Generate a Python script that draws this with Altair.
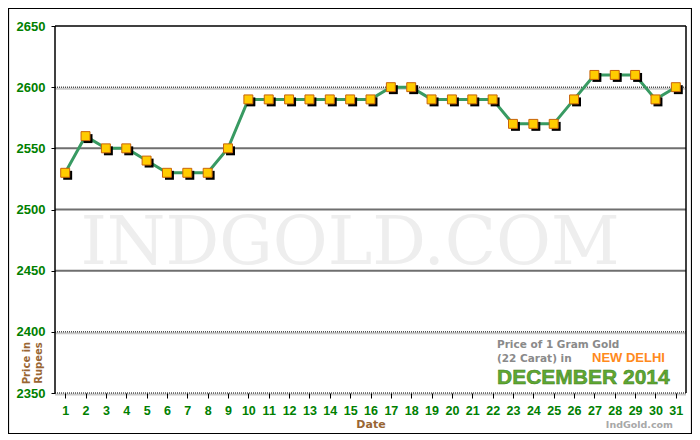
import altair as alt
import pandas as pd

days = list(range(1, 32))
prices = [2530, 2560, 2550, 2550, 2540, 2530, 2530, 2530, 2550, 2590,
          2590, 2590, 2590, 2590, 2590, 2590, 2600, 2600, 2590, 2590,
          2590, 2590, 2570, 2570, 2570, 2590, 2610, 2610, 2610, 2590, 2600]
y_ticks = [2350, 2400, 2450, 2500, 2550, 2600, 2650]
solid_grid = [2450, 2500, 2550]
dotted_grid = [2350, 2400, 2600]

df = pd.DataFrame({"day": days, "price": prices})

W, H = 631, 367
xs = alt.Scale(domain=[0.5, 31.5], nice=False, zero=False)
ys = alt.Scale(domain=[2350, 2650], nice=False, zero=False)

GREEN = "#008000"
BROWN = "#996633"

x_axis = alt.Axis(values=days, title="Date", grid=False, domain=False, zindex=1,
                  format="d", labelOverlap=False, labelBound=False,
                  labelColor=GREEN, labelFont="Liberation Sans", labelFontWeight="bold",
                  labelFontSize=12.5, labelPadding=6, tickColor="black", tickSize=5,
                  titleColor=BROWN, titleFont="DejaVu Sans", titleFontWeight="bold",
                  titleFontSize=11, titlePadding=2, labelFlush=False)
y_axis = alt.Axis(values=y_ticks, title=None, grid=False, domain=False, zindex=1,
                  format="d", labelOverlap=False,
                  labelColor=GREEN, labelFont="Liberation Sans", labelFontWeight="bold",
                  labelFontSize=13, labelPadding=6, tickColor="black", tickSize=4)

# outer border
border = alt.Chart(pd.DataFrame({"a": [0]})).mark_rect(
    fill=None, fillOpacity=0, stroke="black", strokeWidth=1.2
).encode(x=alt.value(-46.5), x2=alt.value(636.5), y=alt.value(-17.5), y2=alt.value(407.5))

watermark = alt.Chart(pd.DataFrame({"t": ["INDGOLD.COM"]})).mark_text(
    font="DejaVu Serif", fontSize=67, color="#eeeeee", align="center", baseline="alphabetic"
).encode(x=alt.value(295), y=alt.value(238), text="t:N")

g_solid = alt.Chart(pd.DataFrame({"v": solid_grid})).mark_rule(
    color="#6f6f6f", strokeWidth=2
).encode(y=alt.Y("v:Q", scale=ys, axis=y_axis))

g_shadow = alt.Chart(pd.DataFrame({"v": dotted_grid})).mark_rule(
    color="#c8c8c8", strokeWidth=2, yOffset=1.5
).encode(y=alt.Y("v:Q", scale=ys, axis=y_axis))

g_dot = alt.Chart(pd.DataFrame({"v": dotted_grid})).mark_rule(
    color="black", strokeWidth=1, strokeDash=[1, 1]
).encode(y=alt.Y("v:Q", scale=ys, axis=y_axis))

frame_top = alt.Chart(pd.DataFrame({"a": [0]})).mark_rule(color="black", strokeWidth=1.5).encode(
    x=alt.value(0), x2=alt.value(W), y=alt.value(0))
frame_left = alt.Chart(pd.DataFrame({"a": [0]})).mark_rule(color="black", strokeWidth=1.5).encode(
    x=alt.value(0), y=alt.value(0), y2=alt.value(H))
frame_right = alt.Chart(pd.DataFrame({"a": [0]})).mark_rule(color="black", strokeWidth=1.5).encode(
    x=alt.value(W), y=alt.value(0), y2=alt.value(H))

line = alt.Chart(df).mark_line(color="#389a62", strokeWidth=3).encode(
    x=alt.X("day:Q", scale=xs, axis=x_axis),
    y=alt.Y("price:Q", scale=ys, axis=y_axis),
)

shadow = alt.Chart(df).mark_point(
    shape="square", size=80, filled=True, color="black", opacity=1, xOffset=2.5, yOffset=2.5
).encode(x=alt.X("day:Q", scale=xs, axis=x_axis), y=alt.Y("price:Q", scale=ys, axis=y_axis))

pts = alt.Chart(df).mark_point(
    shape="square", size=80, filled=True, fill="#ffcc00", stroke="#c8640a", strokeWidth=1, opacity=1
).encode(x=alt.X("day:Q", scale=xs, axis=x_axis), y=alt.Y("price:Q", scale=ys, axis=y_axis))

ylab = alt.Chart(pd.DataFrame({"t": ["Price in\nRupees"]})).mark_text(
    font="DejaVu Sans", fontWeight="bold", fontSize=10, color=BROWN, angle=270,
    align="center", baseline="middle", lineBreak="\n", lineHeight=12
).encode(x=alt.value(-28), y=alt.value(337), text="t:N")

t1 = alt.Chart(pd.DataFrame({"t": ["Price of 1 Gram Gold"]})).mark_text(
    font="DejaVu Sans", fontWeight="bold", fontSize=10.5, color="#8a8a8a", align="left", baseline="alphabetic"
).encode(x=alt.value(442), y=alt.value(322), text="t:N")
t2 = alt.Chart(pd.DataFrame({"t": ["(22 Carat) in"]})).mark_text(
    font="DejaVu Sans", fontWeight="bold", fontSize=10.5, color="#8a8a8a", align="left", baseline="alphabetic"
).encode(x=alt.value(442), y=alt.value(336), text="t:N")
t3 = alt.Chart(pd.DataFrame({"t": ["NEW DELHI"]})).mark_text(
    font="Liberation Sans", fontWeight="bold", fontSize=13, color="#ff8a1c", align="left", baseline="alphabetic"
).encode(x=alt.value(537), y=alt.value(336), text="t:N")
t4 = alt.Chart(pd.DataFrame({"t": ["DECEMBER 2014"]})).mark_text(
    font="Liberation Sans", fontWeight="bold", fontSize=21, fill="#5fa832", stroke="#3f7f1f",
    strokeWidth=0.5, align="left", baseline="alphabetic"
).encode(x=alt.value(442), y=alt.value(358), text="t:N")
t5 = alt.Chart(pd.DataFrame({"t": ["IndGold.com"]})).mark_text(
    font="DejaVu Sans", fontWeight="bold", fontSize=9.5, color="#a8a8a8", align="right", baseline="alphabetic"
).encode(x=alt.value(618), y=alt.value(402), text="t:N")

chart = alt.layer(
    border, watermark, g_shadow, g_solid, g_dot, frame_top, frame_left, frame_right,
    line, shadow, pts, ylab, t1, t2, t3, t4, t5
).properties(
    width=W, height=H,
    autosize=alt.AutoSizeParams(type="none"),
    padding={"left": 47, "top": 18, "right": 6, "bottom": 41},
    background="white",
).configure_view(stroke=None).configure_axis(labelOverlap=False)

chart.save("out.html", embed_options={"renderer": "svg", "actions": False})
